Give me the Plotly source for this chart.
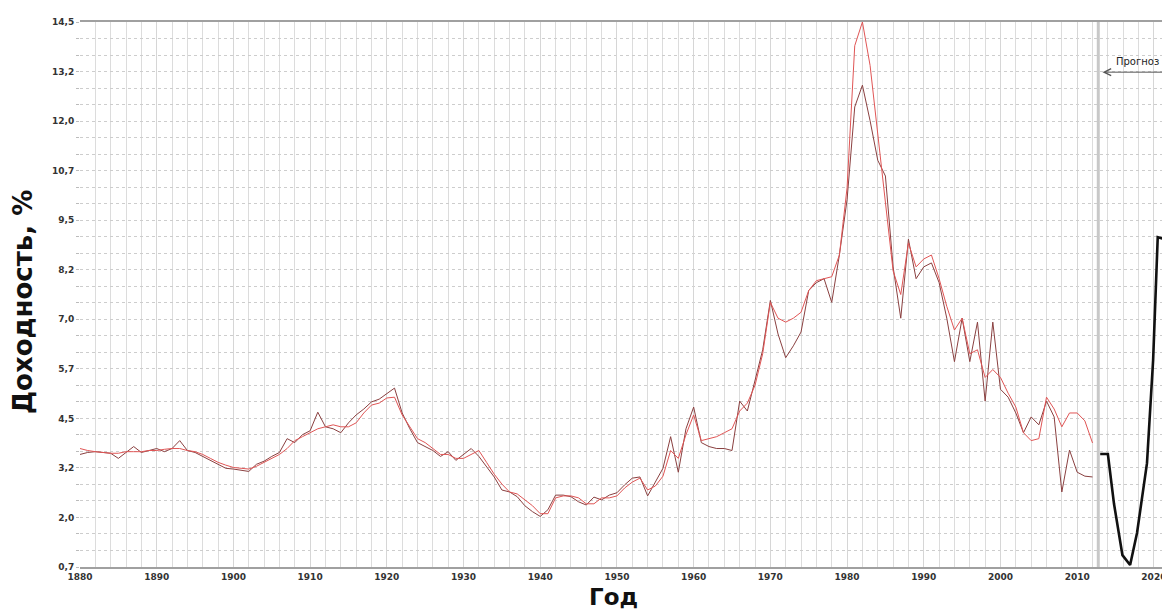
import numpy as np
import plotly.graph_objects as go

# ---------------- data ----------------
years = list(range(1880, 2013))

series_red = [
    3.70, 3.65, 3.62, 3.60, 3.58, 3.58, 3.62, 3.62, 3.62, 3.65,   # 1880-1889
    3.65, 3.68, 3.70, 3.70, 3.65, 3.62, 3.55, 3.45, 3.35, 3.28,   # 1890-1899
    3.22, 3.20, 3.18, 3.25, 3.35, 3.45, 3.55, 3.70, 3.90, 4.00,   # 1900-1909
    4.10, 4.20, 4.25, 4.30, 4.25, 4.25, 4.35, 4.60, 4.80, 4.85,   # 1910-1919
    4.98, 5.00, 4.55, 4.25, 3.95, 3.85, 3.70, 3.55, 3.55, 3.45,   # 1920-1929
    3.45, 3.55, 3.65, 3.35, 3.05, 2.80, 2.60, 2.55, 2.40, 2.25,   # 1930-1939
    2.05, 2.05, 2.45, 2.50, 2.50, 2.45, 2.30, 2.30, 2.45, 2.45,   # 1940-1949
    2.50, 2.70, 2.85, 2.95, 2.65, 2.75, 3.00, 3.65, 3.45, 4.05,   # 1950-1959
    4.55, 3.90, 3.95, 4.00, 4.10, 4.20, 4.65, 4.85, 5.30, 6.10,   # 1960-1969
    7.40, 7.00, 6.90, 7.00, 7.15, 7.70, 7.95, 8.00, 8.05, 8.60,   # 1970-1979
    10.3, 13.9, 14.5, 13.4, 11.7, 10.0, 8.20, 7.60, 8.90, 8.30,   # 1980-1989
    8.50, 8.60, 8.00, 7.30, 6.70, 7.00, 6.10, 6.20, 5.50, 5.70,   # 1990-1999
    5.50, 5.10, 4.75, 4.10, 3.90, 3.95, 5.00, 4.70, 4.25, 4.60,   # 2000-2009
    4.60, 4.40, 3.84,                                             # 2010-2012
]

series_dark = [
    3.55, 3.60, 3.62, 3.60, 3.58, 3.45, 3.60, 3.75, 3.60, 3.65,   # 1880-1889
    3.70, 3.62, 3.70, 3.90, 3.65, 3.60, 3.50, 3.40, 3.30, 3.20,   # 1890-1899
    3.18, 3.15, 3.12, 3.30, 3.38, 3.50, 3.60, 3.95, 3.85, 4.05,   # 1900-1909
    4.15, 4.62, 4.25, 4.20, 4.10, 4.35, 4.55, 4.70, 4.88, 4.95,   # 1910-1919
    5.10, 5.23, 4.60, 4.20, 3.85, 3.75, 3.65, 3.50, 3.62, 3.40,   # 1920-1929
    3.55, 3.70, 3.50, 3.25, 2.98, 2.65, 2.60, 2.48, 2.25, 2.10,   # 1930-1939
    1.98, 2.15, 2.52, 2.52, 2.48, 2.35, 2.27, 2.47, 2.40, 2.52,   # 1940-1949
    2.58, 2.78, 2.95, 2.98, 2.50, 2.85, 3.20, 4.00, 3.10, 4.20,   # 1950-1959
    4.75, 3.85, 3.75, 3.70, 3.70, 3.65, 4.90, 4.65, 5.40, 6.20,   # 1960-1969
    7.45, 6.60, 6.00, 6.30, 6.65, 7.70, 7.90, 8.00, 7.40, 8.60,   # 1970-1979
    10.0, 12.35, 12.9, 12.0, 11.0, 10.6, 8.30, 7.00, 9.00, 8.00,  # 1980-1989
    8.30, 8.40, 7.90, 7.00, 5.90, 7.00, 5.90, 6.90, 4.90, 6.90,   # 1990-1999
    5.20, 5.00, 4.60, 4.10, 4.50, 4.30, 4.90, 4.50, 2.60, 3.66,   # 2000-2009
    3.10, 3.00, 2.98,                                             # 2010-2012
]

forecast_years = [2013.0, 2014.0, 2014.8, 2015.9, 2016.9, 2017.8,
                  2019.1, 2019.9, 2020.5, 2021.5, 2022.5]
forecast_values = [3.56, 3.56, 2.30, 1.00, 0.75, 1.56,
                   3.33, 5.94, 9.05, 9.00, 7.80]

y_tick_labels = ["0,7", "2,0", "3,2", "4,5", "5,7", "7,0",
                 "8,2", "9,5", "10,7", "12,0", "13,2", "14,5"]
x_tick_years = list(range(1880, 2030, 10))

forecast_border_year = 2012.75
y_min, y_max = 0.7, 14.5
x_min, x_max = 1880, 2022.1

# ---------------- figure ----------------
y_tick_vals = np.linspace(y_min, y_max, len(y_tick_labels))
y_minor_step = (y_max - y_min) / (len(y_tick_labels) - 1) / 3

fig = go.Figure()

fig.add_trace(go.Scatter(
    x=years, y=series_dark, mode="lines",
    line=dict(color="#8a4040", width=1), showlegend=False))
fig.add_trace(go.Scatter(
    x=years, y=series_red, mode="lines",
    line=dict(color="#e05555", width=1), showlegend=False))
fig.add_trace(go.Scatter(
    x=forecast_years, y=forecast_values, mode="lines",
    line=dict(color="#111111", width=2.6), showlegend=False))

fig.add_shape(type="line", xref="x", yref="paper",
              x0=forecast_border_year, x1=forecast_border_year, y0=0, y1=1,
              line=dict(color="#c8c8c8", width=3), layer="above")

tick_font = dict(family="DejaVu Sans, Liberation Sans, Arial",
                 size=9, color="#333333", weight="bold")

fig.update_xaxes(
    range=[x_min, x_max],
    tickmode="array", tickvals=x_tick_years,
    ticktext=[str(v) for v in x_tick_years],
    tickfont=tick_font, ticks="",
    showgrid=True, gridcolor="#d6d6d6", gridwidth=1,
    minor=dict(dtick=2, tick0=1880, showgrid=True, gridcolor="#dcdcdc", gridwidth=1),
    showline=True, linecolor="#a0a0a0", linewidth=2, mirror=True,
    zeroline=False, automargin=False,
)
fig.update_yaxes(
    range=[y_min, y_max],
    tickmode="array", tickvals=y_tick_vals, ticktext=y_tick_labels,
    tickfont=tick_font, ticks="outside", ticklen=3, tickcolor="#bbbbbb",
    showgrid=True, gridcolor="#cdcdcd", gridwidth=1, griddash="dot",
    minor=dict(dtick=y_minor_step, tick0=y_min, showgrid=True,
               gridcolor="#cdcdcd", gridwidth=1, griddash="dot",
               ticks="outside", ticklen=3, tickcolor="#bbbbbb"),
    showline=False, zeroline=False, automargin=False,
)

fig.add_annotation(text="Год", xref="paper", yref="paper", x=0.489, y=-0.055,
                   showarrow=False, xanchor="center", yanchor="middle",
                   font=dict(family="DejaVu Sans, Arial", size=23, color="#111111",
                             weight="bold"))
fig.add_annotation(text="Доходность, %", xref="paper", yref="paper", x=-0.0523, y=0.486,
                   textangle=-90, showarrow=False, xanchor="center", yanchor="middle",
                   font=dict(family="DejaVu Sans, Arial", size=26, color="#111111",
                             weight="bold"))

# forecast arrow and label
fig.add_annotation(x=2013.3, y=13.23, ax=2024.0, ay=13.23, xref="x", yref="y",
                   axref="x", ayref="y", text="", showarrow=True,
                   arrowhead=5, arrowsize=1.4, arrowwidth=1, arrowcolor="#555555")
fig.add_annotation(text="Прогноз", x=2014.8, y=13.5, xref="x", yref="y",
                   xanchor="left", yanchor="middle", showarrow=False,
                   font=dict(family="DejaVu Sans, Arial", size=10, color="#222222"))

# the page body has an 8px margin, so the margins are offset to keep the plot in place
fig.update_layout(
    width=1170, height=614,
    margin=dict(l=72, r=8, t=14, b=55, pad=0),
    paper_bgcolor="white", plot_bgcolor="white",
    showlegend=False,
)

fig.write_html("out.html")
